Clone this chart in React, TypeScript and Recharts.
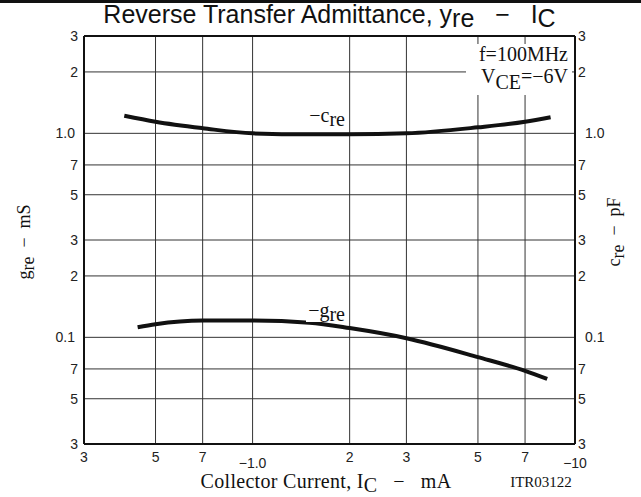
import { LineChart, Line, XAxis, YAxis, CartesianGrid, ReferenceLine } from 'recharts';

const xTicks = [0.3, 0.5, 0.7, 1, 2, 3, 5, 7, 10];
const xTickLabels = ['3', '5', '7', '−1.0', '2', '3', '5', '7', '−10'];
const yTicks = [0.03, 0.05, 0.07, 0.1, 0.2, 0.3, 0.5, 0.7, 1, 2, 3];
const yTickLabels = ['3', '5', '7', '0.1', '2', '3', '5', '7', '1.0', '2', '3'];

// -c_re (pF) vs Ic (mA)
const creCurrent = [0.4, 0.5, 0.7, 1, 1.5, 2, 3, 5, 7, 8.4];
const creValues = [1.22, 1.14, 1.06, 1.0, 0.99, 0.99, 1.0, 1.07, 1.14, 1.2];

// -g_re (mS) vs Ic (mA)
const greCurrent = [0.44, 0.5, 0.7, 1, 1.5, 2, 3, 5, 7, 8.2];
const greValues = [0.112, 0.116, 0.121, 0.121, 0.118, 0.111, 0.099, 0.08, 0.0685, 0.0625];

const creData = creCurrent.map((x, i) => ({ x, y: creValues[i] }));
const greData = greCurrent.map((x, i) => ({ x, y: greValues[i] }));

const sans = '"Liberation Sans", Arial, sans-serif';
const serif = '"Liberation Serif", "Times New Roman", serif';

const labelOf = (ticks: number[], labels: string[], v: number) => {
  const i = ticks.findIndex((t) => Math.abs(t - v) < 1e-9);
  return i < 0 ? '' : labels[i];
};

const XTick = (props: any) => {
  const { x, y, payload } = props;
  const label = labelOf(xTicks, xTickLabels, payload.value);
  const low = label.startsWith('−');
  return (
    <text x={x} y={y + (low ? 24 : 18)} textAnchor="middle" fontFamily={sans} fontSize={14} fill="#222">
      {label}
    </text>
  );
};

const LeftTick = (props: any) => {
  const { x, y, payload } = props;
  const label = labelOf(yTicks, yTickLabels, payload.value);
  const dec = label.includes('.');
  return (
    <text x={x - (dec ? 9 : 6)} y={y + 5} textAnchor="end" fontFamily={sans} fontSize={14} fill="#222">
      {label}
    </text>
  );
};

const RightTick = (props: any) => {
  const { x, y, payload } = props;
  const label = labelOf(yTicks, yTickLabels, payload.value);
  const dec = label.includes('.');
  return (
    <text x={x + (dec ? 10 : 3)} y={y + 5} textAnchor="start" fontFamily={sans} fontSize={14} fill="#222">
      {label}
    </text>
  );
};

const sub = (t: string, shift = 5, size = '0.9em') => (
  <span style={{ position: 'relative', top: shift, fontSize: size }}>{t}</span>
);

const axisStroke = { stroke: '#111', strokeWidth: 2 };

export default function App() {
  return (
    <div style={{ position: 'absolute', left: 0, top: 0, width: 641, height: 497, background: '#fff' }}>
      <LineChart width={641} height={497} margin={{ top: 36, right: 0, bottom: 0, left: 0 }}>
        <CartesianGrid xAxisId="b" yAxisId="l" stroke="#333" strokeWidth={1} />
        <XAxis
          xAxisId="b"
          dataKey="x"
          type="number"
          scale="log"
          domain={[0.3, 10]}
          ticks={xTicks}
          allowDataOverflow
          height={53}
          tickSize={0}
          tickMargin={0}
          tickLine={false}
          axisLine={axisStroke}
          tick={<XTick />}
          interval={0}
        />
        <YAxis
          yAxisId="l"
          type="number"
          scale="log"
          domain={[0.03, 3]}
          ticks={yTicks}
          allowDataOverflow
          width={84}
          tickSize={0}
          tickMargin={0}
          tickLine={false}
          axisLine={axisStroke}
          tick={<LeftTick />}
          interval={0}
        />
        <YAxis
          yAxisId="r"
          orientation="right"
          type="number"
          scale="log"
          domain={[0.03, 3]}
          ticks={yTicks}
          allowDataOverflow
          width={66}
          tickSize={0}
          tickMargin={0}
          tickLine={false}
          axisLine={axisStroke}
          tick={<RightTick />}
          interval={0}
        />
        <ReferenceLine xAxisId="b" yAxisId="l" y={3} stroke="#111" strokeWidth={2} ifOverflow="visible" />
        <Line
          xAxisId="b"
          yAxisId="r"
          data={creData}
          dataKey="y"
          type="monotone"
          stroke="#111"
          strokeWidth={4}
          dot={false}
          isAnimationActive={false}
        />
        <Line
          xAxisId="b"
          yAxisId="l"
          data={greData}
          dataKey="y"
          type="monotone"
          stroke="#111"
          strokeWidth={4}
          dot={false}
          isAnimationActive={false}
        />
      </LineChart>

      {/* top rule */}
      <div style={{ position: 'absolute', left: 0, top: 0, width: 641, height: 3, background: '#111' }} />

      {/* title */}
      <div
        style={{
          position: 'absolute',
          left: 83,
          width: 493,
          top: 0,
          textAlign: 'center',
          fontFamily: sans,
          fontSize: 25,
          lineHeight: '28px',
          color: '#111',
          whiteSpace: 'pre',
        }}
      >
        Reverse Transfer Admittance, y{sub('re', 4, '1em')}{'   −   '}I{sub('C', 4, '1em')}
      </div>

      {/* conditions */}
      <div style={{ position: 'absolute', left: 466, top: 44, width: 106, height: 51, background: '#fff' }} />
      <div
        style={{
          position: 'absolute',
          right: 641 - 568,
          top: 44,
          fontFamily: serif,
          fontSize: 20,
          lineHeight: '20px',
          color: '#111',
          whiteSpace: 'nowrap',
        }}
      >
        f=100MHz
      </div>
      <div
        style={{
          position: 'absolute',
          right: 641 - 568,
          top: 66,
          fontFamily: serif,
          fontSize: 20,
          lineHeight: '20px',
          color: '#111',
          whiteSpace: 'nowrap',
        }}
      >
        V{sub('CE', 6, '1em')}=−6V
      </div>

      {/* curve labels */}
      <div
        style={{
          position: 'absolute',
          right: 641 - 347,
          top: 106,
          padding: '0 2px',
          background: '#fff',
          fontFamily: serif,
          fontSize: 20,
          lineHeight: '19px',
          height: 22,
          color: '#111',
          whiteSpace: 'nowrap',
        }}
      >
        −c{sub('re', 4, '1em')}
      </div>
      <div
        style={{
          position: 'absolute',
          right: 641 - 347,
          top: 301,
          padding: '0 2px',
          background: '#fff',
          fontFamily: serif,
          fontSize: 20,
          lineHeight: '19px',
          height: 21,
          color: '#111',
          whiteSpace: 'nowrap',
        }}
      >
        −g{sub('re', 4, '1em')}
      </div>

      {/* axis titles */}
      <div
        style={{
          position: 'absolute',
          left: 24,
          top: 242,
          transform: 'translate(-50%, -50%) rotate(-90deg)',
          fontFamily: serif,
          fontSize: 18,
          color: '#111',
          whiteSpace: 'pre',
        }}
      >
        g{sub('re', 4, '1em')}{'  −  '}mS
      </div>
      <div
        style={{
          position: 'absolute',
          left: 614,
          top: 232,
          transform: 'translate(-50%, -50%) rotate(-90deg)',
          fontFamily: serif,
          fontSize: 18,
          color: '#111',
          whiteSpace: 'pre',
        }}
      >
        c{sub('re', 4, '1em')}{'  −  '}pF
      </div>
      <div
        style={{
          position: 'absolute',
          left: 326,
          top: 481,
          transform: 'translate(-50%, -50%)',
          fontFamily: serif,
          fontSize: 20,
          letterSpacing: 0.3,
          color: '#111',
          whiteSpace: 'pre',
        }}
      >
        Collector Current, I{sub('C', 4, '1em')}{'   −   '}mA
      </div>
      <div
        style={{
          position: 'absolute',
          left: 541,
          top: 482,
          transform: 'translate(-50%, -50%)',
          fontFamily: serif,
          fontSize: 15,
          color: '#111',
          whiteSpace: 'nowrap',
        }}
      >
        ITR03122
      </div>
    </div>
  );
}
